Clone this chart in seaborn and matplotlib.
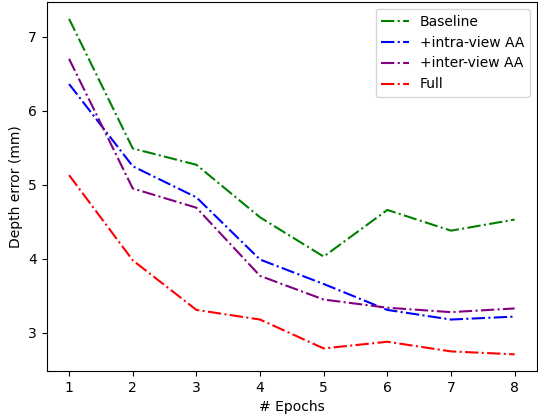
import numpy as np
import pandas as pd
import matplotlib
matplotlib.use("Agg")
import matplotlib.pyplot as plt
import seaborn as sns

# values
epochs = [1, 2, 3, 4, 5, 6, 7, 8]
baseline = [7.24, 5.49, 5.27, 4.56, 4.03, 4.66, 4.38, 4.53]
intra_view = [6.36, 5.25, 4.83, 3.99, 3.66, 3.31, 3.18, 3.22]
inter_view = [6.70, 4.95, 4.69, 3.77, 3.45, 3.34, 3.28, 3.33]
full = [5.13, 3.98, 3.31, 3.18, 2.79, 2.88, 2.75, 2.71]

labels = ["Baseline", "+intra-view AA", "+inter-view AA", "Full"]
colors = ["green", "blue", "purple", "red"]

df = pd.DataFrame({
    "epoch": epochs * 4,
    "err": baseline + intra_view + inter_view + full,
    "method": [l for l in labels for _ in epochs],
})

sns.set_style("ticks", {"axes.edgecolor": "black", "xtick.color": "black",
                        "ytick.color": "black", "text.color": "black",
                        "axes.labelcolor": "black"})
plt.rcParams["font.family"] = ["DejaVu Sans"]

fig, ax = plt.subplots(figsize=(5.38, 4.17), dpi=100)
fig.subplots_adjust(left=0.087, right=0.998, top=0.995, bottom=0.110)

for lab, col in zip(labels, colors):
    sns.lineplot(data=df[df["method"] == lab], x="epoch", y="err", ax=ax,
                 color=col, linestyle="-.", linewidth=1.5, label=lab)

ax.set_xticks(epochs)
ax.set_xlabel("# Epochs")
ax.set_ylabel("Depth error (mm)")
ax.legend(loc="upper right", fontsize=10)

fig.savefig("out.png", dpi=100)
